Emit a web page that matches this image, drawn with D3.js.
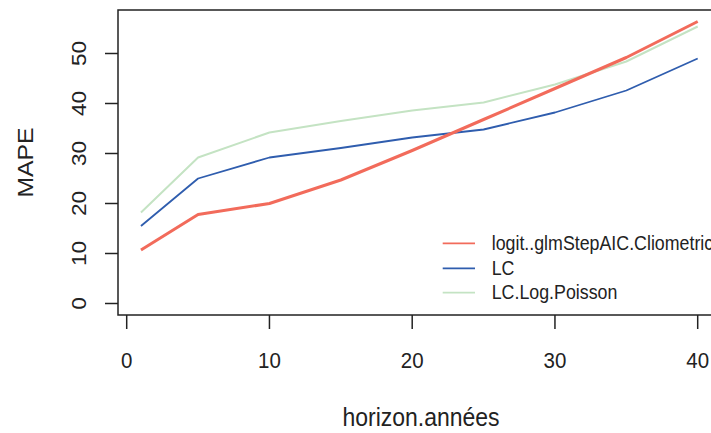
<!DOCTYPE html>
<html><head><meta charset="utf-8">
<script src="https://cdn.jsdelivr.net/npm/d3@7"></script>
<style>body{margin:0;background:#fff;} svg{display:block;} text{font-family:"Liberation Sans",Arial,sans-serif;fill:#222;}</style>
</head><body>
<svg id="c" width="711" height="433"></svg>
<script>
const horizons = [1, 5, 10, 15, 20, 25, 30, 35, 40];
const seriesNames = ["logit..glmStepAIC.Cliometric", "LC", "LC.Log.Poisson"];
const logitValues = [10.7, 17.8, 20.0, 24.7, 30.6, 36.8, 43.0, 49.2, 56.4];
const lcValues = [15.5, 25.0, 29.2, 31.1, 33.2, 34.8, 38.2, 42.6, 49.0];
const lcPoissonValues = [18.2, 29.2, 34.2, 36.5, 38.6, 40.2, 43.8, 48.4, 55.4];
const seriesColors = ["#F26B5B", "#2F5DAE", "#C4E3C3"];
const seriesWidths = [3, 1.8, 2];
const xTicks = [0, 10, 20, 30, 40];
const yTicks = [0, 10, 20, 30, 40, 50];

const svg = d3.select("#c");
const box = {left: 118, top: 10, bottom: 315, right: 724};
const x = d3.scaleLinear().domain([0, 40]).range([126.7, 697.7]);
const y = d3.scaleLinear().domain([0, 50]).range([303.5, 53.5]);
const ink = "#222";
const sy = 1.1;

const allSeries = [logitValues, lcValues, lcPoissonValues];
const line = d3.line().x((d, i) => x(horizons[i])).y(d => y(d));
[2, 1, 0].forEach(k => {
  svg.append("path").datum(allSeries[k]).attr("d", line)
    .attr("fill", "none").attr("stroke", seriesColors[k])
    .attr("stroke-width", seriesWidths[k]).attr("stroke-linejoin", "round");
});

svg.append("rect").attr("x", box.left).attr("y", box.top)
  .attr("width", box.right - box.left).attr("height", box.bottom - box.top)
  .attr("fill", "none").attr("stroke", ink).attr("stroke-width", 1.5);

const xAxis = svg.append("g");
xTicks.forEach(t => {
  xAxis.append("line").attr("x1", x(t)).attr("x2", x(t)).attr("y1", box.bottom).attr("y2", 329)
    .attr("stroke", ink).attr("stroke-width", 1.5);
  xAxis.append("text").attr("transform", `translate(${x(t)},368) scale(1,${sy})`)
    .attr("text-anchor", "middle").attr("font-size", 20.5).text(t);
});
yTicks.forEach(t => {
  svg.append("line").attr("x1", 105).attr("x2", box.left).attr("y1", y(t)).attr("y2", y(t))
    .attr("stroke", ink).attr("stroke-width", 1.5);
  svg.append("text").attr("transform", `translate(86,${y(t)}) rotate(-90) scale(${sy},1)`)
    .attr("text-anchor", "middle").attr("font-size", 20.5).text(t);
});

svg.append("text").attr("transform", `translate(421,426) scale(1,${sy})`)
  .attr("text-anchor", "middle").attr("font-size", 23).text("horizon.années");
svg.append("text").attr("transform", `translate(33,162.5) rotate(-90) scale(${sy},1)`)
  .attr("text-anchor", "middle").attr("font-size", 22.5).text("MAPE");

const legY = [243.3, 268.3, 292.7];
seriesNames.forEach((n, i) => {
  svg.append("line").attr("x1", 442.7).attr("x2", 475).attr("y1", legY[i]).attr("y2", legY[i])
    .attr("stroke", seriesColors[i]).attr("stroke-width", 1.8);
  svg.append("text").attr("transform", `translate(491.7,${legY[i] + 6.5}) scale(1,${sy})`)
    .attr("font-size", 17.8).text(n);
});
</script>
</body></html>
